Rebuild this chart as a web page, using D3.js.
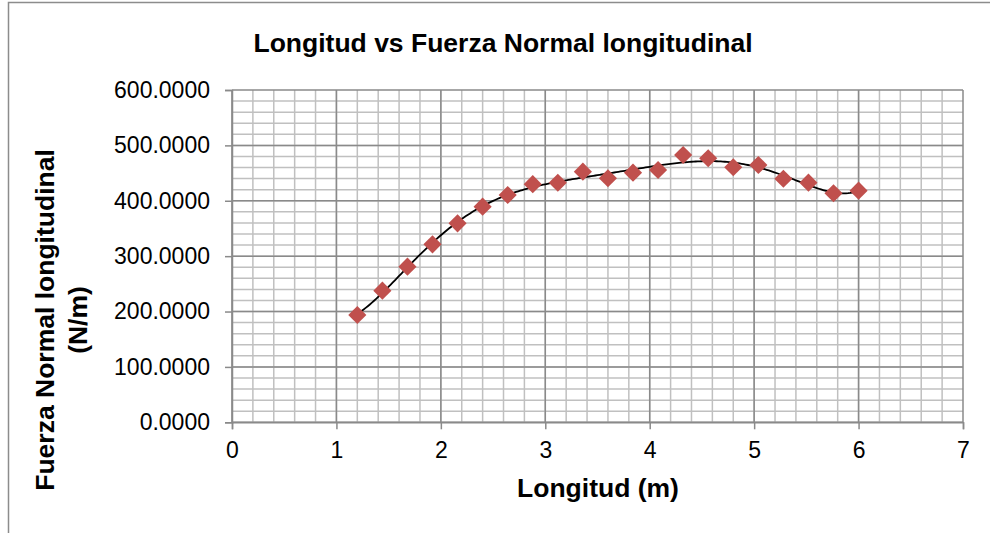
<!DOCTYPE html>
<html>
<head>
<meta charset="utf-8">
<script src="https://cdn.jsdelivr.net/npm/d3@7"></script>
<style>
    body { margin: 0; background: #fff; }
    svg { display: block; font-family: "Liberation Sans", Arial, sans-serif; }
</style>
</head>
<body>
<svg></svg>
<script>
// datos
const longitud = [1.20, 1.44, 1.68, 1.92, 2.16, 2.40, 2.64, 2.88, 3.12, 3.36, 3.60,
    3.84, 4.08, 4.32, 4.56, 4.80, 5.04, 5.28, 5.52, 5.76, 6.00];
const fuerza = [193.8, 237.7, 281.0, 321.4, 359.3, 389.3, 410.4, 430.0, 432.6, 452.5, 440.6,
    450.7, 455.6, 482.7, 476.7, 460.5, 464.6, 439.7, 432.7, 413.5, 418.2];
const xTicks = [0, 1, 2, 3, 4, 5, 6, 7];
const yTicks = [0, 100, 200, 300, 400, 500, 600];

const titulo = "Longitud vs Fuerza Normal longitudinal";
const tituloX = "Longitud (m)";
const tituloY = ["Fuerza Normal longitudinal", "(N/m)"];

const width = 990;
const height = 533;
const plot = { left: 232, right: 963, top: 90, bottom: 422.3 };

let svg = d3.select("svg")
    .attr("width", width)
    .attr("height", height);

// marco exterior del gráfico
svg.append("path")
    .attr("d", `M8.5,${height + 5} V2.5 H${width + 5}`)
    .attr("fill", "none")
    .attr("stroke", "#8c8c8c")
    .attr("stroke-width", 1.5);

let scaleX = d3.scaleLinear()
    .domain([0, 7])
    .range([plot.left, plot.right]);

let scaleY = d3.scaleLinear()
    .domain([0, 600])
    .range([plot.bottom, plot.top]);

// rejilla secundaria
let grid = svg.append("g");
grid.selectAll(".vmin")
    .data(d3.range(0, 35).map(i => i * 0.2))
    .enter()
    .append("line")
    .attr("x1", d => scaleX(d)).attr("x2", d => scaleX(d))
    .attr("y1", plot.top).attr("y2", plot.bottom)
    .attr("stroke", "#c0c0c0")
    .attr("stroke-width", 1.5);

grid.selectAll(".hmin")
    .data(d3.range(0, 30).map(i => i * 20))
    .enter()
    .append("line")
    .attr("x1", plot.left).attr("x2", plot.right)
    .attr("y1", d => scaleY(d)).attr("y2", d => scaleY(d))
    .attr("stroke", "#c0c0c0")
    .attr("stroke-width", 1.5);

// rejilla principal
grid.selectAll(".vmaj")
    .data(xTicks)
    .enter()
    .append("line")
    .attr("x1", d => scaleX(d)).attr("x2", d => scaleX(d))
    .attr("y1", plot.top).attr("y2", plot.bottom)
    .attr("stroke", "#8a8a8a")
    .attr("stroke-width", 1.5);

grid.selectAll(".hmaj")
    .data(yTicks)
    .enter()
    .append("line")
    .attr("x1", plot.left).attr("x2", plot.right)
    .attr("y1", d => scaleY(d)).attr("y2", d => scaleY(d))
    .attr("stroke", "#8a8a8a")
    .attr("stroke-width", 1.5);

// ejes
let axisX = d3.axisBottom(scaleX).tickValues(xTicks).tickSize(7).tickPadding(12)
    .tickFormat(d3.format("d"));
let axisY = d3.axisLeft(scaleY).tickValues(yTicks).tickSize(7).tickPadding(15)
    .tickFormat(d3.format(".4f"));

let gx = svg.append("g")
    .attr("transform", `translate(0, ${plot.bottom})`)
    .call(axisX);
let gy = svg.append("g")
    .attr("transform", `translate(${plot.left}, 0)`)
    .call(axisY);

[gx, gy].forEach(g => {
    g.select(".domain").attr("stroke", "#8a8a8a").attr("stroke-width", 1.5);
    g.selectAll(".tick line").attr("stroke", "#8a8a8a").attr("stroke-width", 1.5);
    g.selectAll(".tick text")
        .attr("fill", "#000")
        .style("font-size", "23px")
        .style("font-family", "'Liberation Sans', Arial, sans-serif");
});

// línea de tendencia polinómica (orden 6)
function polyFit(xs, ys, order) {
    const mx = d3.mean(xs);
    const n = order + 1;
    let A = Array.from({ length: n }, () => new Array(n + 1).fill(0));
    xs.forEach((x, k) => {
        const t = x - mx;
        for (let i = 0; i < n; i++) {
            for (let j = 0; j < n; j++) A[i][j] += Math.pow(t, i + j);
            A[i][n] += ys[k] * Math.pow(t, i);
        }
    });
    for (let i = 0; i < n; i++) {
        let p = i;
        for (let r = i + 1; r < n; r++) if (Math.abs(A[r][i]) > Math.abs(A[p][i])) p = r;
        [A[i], A[p]] = [A[p], A[i]];
        for (let r = 0; r < n; r++) {
            if (r === i) continue;
            const f = A[r][i] / A[i][i];
            for (let c = i; c <= n; c++) A[r][c] -= f * A[i][c];
        }
    }
    const coef = A.map((row, i) => row[n] / row[i]);
    return x => coef.reduce((s, c, i) => s + c * Math.pow(x - mx, i), 0);
}

const trend = polyFit(longitud, fuerza, 6);
const xs = d3.range(0, 241).map(i => longitud[0] + i * (longitud[longitud.length - 1] - longitud[0]) / 240);

svg.append("path")
    .datum(xs)
    .attr("d", d3.line().x(d => scaleX(d)).y(d => scaleY(trend(d))))
    .attr("fill", "none")
    .attr("stroke", "#000")
    .attr("stroke-width", 1.8);

// marcadores
svg.selectAll(".dot")
    .data(longitud)
    .enter()
    .append("path")
    .attr("d", d3.symbol(d3.symbolSquare, 165))
    .attr("transform", (d, i) => `translate(${scaleX(d)}, ${scaleY(fuerza[i])}) rotate(45)`)
    .attr("fill", "#c0504d");

// títulos
svg.append("text")
    .attr("x", 503)
    .attr("y", 52)
    .attr("text-anchor", "middle")
    .style("font-size", "26.5px")
    .style("font-weight", "bold")
    .text(titulo);

svg.append("text")
    .attr("x", 598)
    .attr("y", 497)
    .attr("text-anchor", "middle")
    .style("font-size", "26.5px")
    .style("font-weight", "bold")
    .text(tituloX);

let ty = svg.append("text")
    .attr("transform", "translate(0, 320) rotate(-90)")
    .attr("text-anchor", "middle")
    .style("font-size", "26.5px")
    .style("font-weight", "bold");
ty.selectAll("tspan")
    .data(tituloY)
    .enter()
    .append("tspan")
    .attr("x", 0)
    .attr("y", (d, i) => 54 + i * 33)
    .text(d => d);
</script>
</body>
</html>
